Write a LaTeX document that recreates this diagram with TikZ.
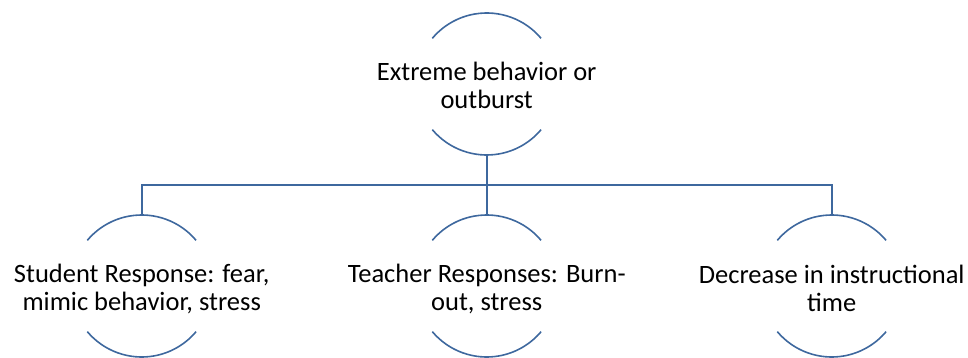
\documentclass[tikz,border=0pt]{standalone}
\usepackage{fontspec}
\setmainfont{Carlito}
\definecolor{linecol}{RGB}{62,104,158}
\tikzset{
  ring/.style={circle, minimum size=142pt, inner sep=0pt, outer sep=0pt},
  lbl/.style={align=center, font=\fontsize{26.5}{28}\selectfont, inner sep=0pt, text=black},
  conn/.style={draw=linecol, line width=1.6pt},
}
\newcommand{\ringarcs}[1]{%
  \draw[conn] (#1.40) arc[start angle=40, end angle=140, radius=71pt];
  \draw[conn] (#1.220) arc[start angle=220, end angle=320, radius=71pt];}
\begin{document}
\begin{tikzpicture}[x=1pt,y=-1pt]
\useasboundingbox (0,0) rectangle (968,358);
\node[ring] (t) at (486.7,84) {};
\node[ring] (c1) at (141.7,286) {};
\node[ring] (c2) at (486.7,286) {};
\node[ring] (c3) at (831.7,286) {};
\ringarcs{t}\ringarcs{c1}\ringarcs{c2}\ringarcs{c3}
\node[lbl] (tt) at ([yshift=-1pt]t.center) {Extreme behavior or\\outburst};
\node[lbl] (t1) at ([yshift=-2.5pt]c1.center) {Student Response: fear,\\mimic behavior, stress};
\node[lbl] (t2) at ([yshift=-2.5pt]c2.center) {Teacher Responses: Burn-\\out, stress};
\node[lbl] (t3) at ([yshift=-2.5pt]c3.center) {Decrease in instructional\\time};
\coordinate (j) at (486.7,185);
\draw[conn] (t.south) -- (j);
\draw[conn] (c1.north) -- (c1.north |- j) -- (c3.north |- j) -- (c3.north);
\draw[conn] (j) -- (c2.north);
\end{tikzpicture}
\end{document}
